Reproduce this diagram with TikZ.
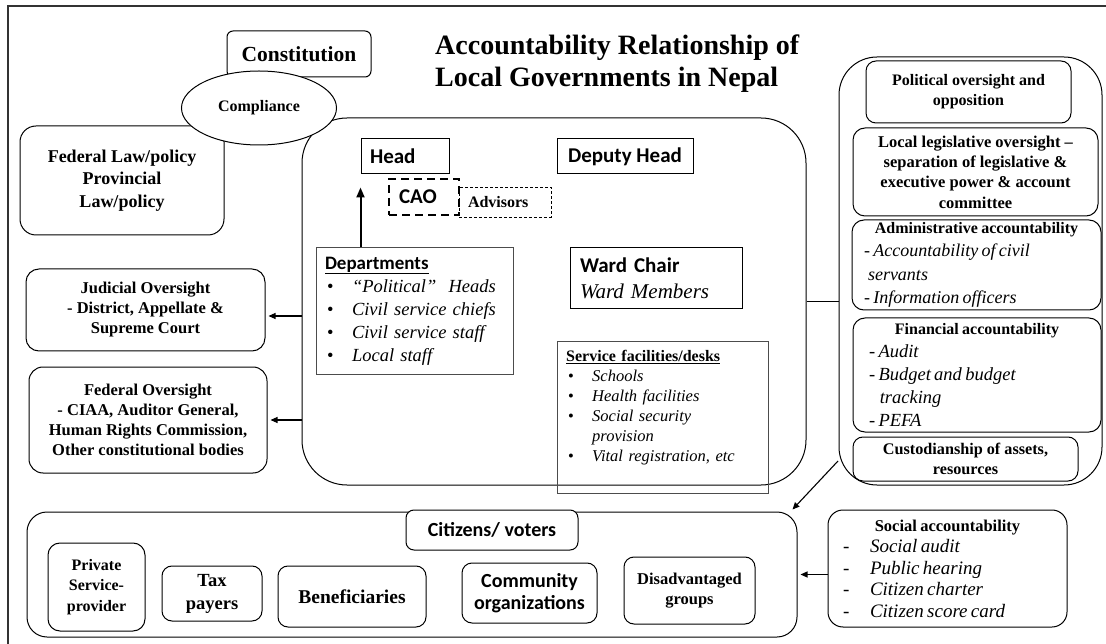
\documentclass[tikz,border=0pt]{standalone}
\usepackage{fontspec}
\setmainfont{Liberation Serif}
\newfontfamily\calfont{Carlito}
\usetikzlibrary{shapes.geometric,arrows.meta}
\newcommand\fsz[2]{\fontsize{#1}{#2}\selectfont}
\newcommand\bul[1]{\makebox[#1][l]{\hspace*{2pt}•}}
\begin{document}
\begin{tikzpicture}[x=1pt,y=-1pt]
\tikzset{
  bx/.style={draw, line width=1pt, inner sep=0pt},
  rb/.style={bx, rounded corners=#1},
  wh/.style 2 args={minimum width=#1pt, minimum height=#2pt},
  tip/.style={-{Triangle[length=7pt,width=6pt]}, line width=1.1pt},
  bigtip/.style={-{Triangle[length=10pt,width=8pt]}, line width=2pt},
}
\useasboundingbox (0,0) rectangle (1106,644);
\draw[line width=2pt, black!80] (8,6) rectangle (1114,652);

% title
\node[anchor=west, align=left, inner sep=0pt, font=\bfseries\fsz{28}{32}] (title) at (435,64)
  {Accountability Relationship of\\Local Governments in Nepal};

% left top
\node[rb=6pt, wh={144}{46}, font=\bfseries\fsz{21.5}{26}] (const) at (299,54) {Constitution};
\node[rb=16pt, wh={204}{109}, align=center, font=\bfseries\fsz{18}{22.5}] (fed) at (122,180.5)
  {Federal Law/policy\\Provincial\\Law/policy};

% main local government box
\node[rb=45pt, wh={504}{367}] (main) at (554,301.5) {};
\node[bx, ellipse, fill=white, wh={155}{74}, font=\bfseries\fsz{16}{19}] (compl) at (259,108) {Compliance};

\node[bx, wh={88}{35}, text width=70pt, inner xsep=9pt, align=left, font=\calfont\bfseries\fsz{21}{25}] (head) at (405,156.5) {Head};
\node[bx, wh={136}{35}, font=\calfont\bfseries\fsz{21}{25}] (dep) at (625,156.5) {Deputy Head};
\node[draw, line width=0.7pt, dash pattern=on 3pt off 2pt, inner sep=0pt, wh={92}{30}, text width=74pt, inner xsep=9pt, align=left, font=\bfseries\fsz{16}{19}] (adv) at (505,202) {Advisors};
\node[draw, line width=2.4pt, dash pattern=on 8pt off 5pt, inner sep=0pt, wh={70}{36}, text width=50pt, inner xsep=10pt, align=left, font=\calfont\bfseries\fsz{21}{25}] (cao) at (424,197) {CAO};

\node[bx, draw=black!70, wh={197}{126}, text width=179pt, inner xsep=9pt, align=left, font=\fsz{18.5}{23}] (dept) at (414.5,311)
  {{\calfont\bfseries\fsz{19}{23}\underline{Departments}}\\
   \bul{27pt}\textit{“Political”~ Heads}\\
   \bul{27pt}\textit{Civil service chiefs}\\
   \bul{27pt}\textit{Civil service staff}\\
   \bul{27pt}\textit{Local staff}};

\node[bx, wh={172}{61}, text width=152pt, inner xsep=10pt, align=left, font=\fsz{21}{26}] (ward) at (656,278.5)
  {{\calfont\bfseries Ward Chair}\\\textit{Ward Members}};

\node[bx, draw=black!70, wh={211}{151}] (serv) at (662.5,417.5) {};
\node[anchor=west, text width=195pt, align=left, inner sep=0pt, font=\fsz{16.5}{20}] (servtxt) at (566,408)
  {{\bfseries\fsz{16}{20}\underline{Service facilities/desks}}\\
   \bul{26pt}\textit{Schools}\\
   \bul{26pt}\textit{Health facilities}\\
   \bul{26pt}\textit{Social security}\\
   \hspace*{26pt}\textit{provision}\\
   \bul{26pt}\textit{Vital registration, etc}};

% left oversight
\node[rb=13pt, wh={239}{82}, align=center, font=\bfseries\fsz{16.5}{20}] (jud) at (145.5,310)
  {Judicial Oversight\\- District, Appellate \&\\Supreme Court};
\node[rb=14pt, wh={238}{106}, align=center, font=\bfseries\fsz{16.5}{20}] (fov) at (148,420)
  {Federal Oversight\\- CIAA, Auditor General,\\Human Rights Commission,\\Other constitutional bodies};

% right panel
\node[rb=38pt, wh={263}{428}] (rp) at (970.5,271) {};
\node[rb=10pt, wh={205}{62}, align=center, font=\bfseries\fsz{16}{20}] (pol) at (968.5,92)
  {Political oversight and\\opposition};
\node[rb=12pt, wh={245}{88}, align=center, font=\bfseries\fsz{16.5}{20.3}] (leg) at (975.5,172)
  {Local legislative oversight –\\separation of legislative \&\\executive power \& account\\committee};
\node[rb=12pt, wh={249}{90}, text width=225pt, inner xsep=12pt] (adm) at (976.5,265)
  {\setlength\parindent{0pt}{\centering\bfseries\fsz{16}{20}Administrative accountability\par}%
   \fsz{18}{23.5}\itshape - Accountability of civil\par
   \hspace*{4pt}servants\par
   - Information officers\par};
\node[rb=12pt, wh={248}{114}, text width=216pt, inner xsep=16pt] (fin) at (977,375)
  {\setlength\parindent{0pt}{\centering\bfseries\fsz{16}{20}Financial accountability\par}%
   \fsz{18.5}{23}\itshape - Audit\par
   - Budget and budget\par
   \hspace*{10.8pt}tracking\par
   - PEFA\par};
\node[rb=10pt, wh={225}{44}, align=center, font=\bfseries\fsz{16.2}{20}] (cust) at (965.5,459)
  {Custodianship of assets,\\resources};

% citizens
\node[rb=20pt, wh={770}{125}] (cit) at (412,574.5) {};
\node[rb=8pt, fill=white, wh={172}{40}, font=\calfont\bfseries\fsz{20}{24}] (vot) at (492,530) {Citizens/ voters};
\node[rb=12pt, wh={97}{88}, align=center, font=\bfseries\fsz{16}{20.5}] (priv) at (96.5,587) {Private\\Service-\\provider};
\node[rb=10pt, wh={100}{55}, align=center, font=\bfseries\fsz{18.5}{23}] (tax) at (212,593.5) {Tax\\payers};
\node[rb=10pt, wh={148}{61}, font=\bfseries\fsz{19.5}{23}] (ben) at (352,596.5) {Beneficiaries};
\node[rb=10pt, wh={135}{60}, align=center, font=\calfont\bfseries\fsz{20}{22.5}] (com) at (529.5,593) {Community\\organizations};
\node[rb=10pt, wh={131}{67}, align=center, font=\bfseries\fsz{16.5}{20.5}] (dis) at (689.5,590.5) {Disadvantaged\\groups};

\node[rb=15pt, wh={239}{117}, text width=209pt, inner xsep=15pt] (soc) at (947.5,568.5)
  {\setlength\parindent{0pt}{\centering\bfseries\fsz{16.5}{20}Social accountability\par}%
   \fsz{19}{21.5}\itshape
   \makebox[27pt][l]{\upshape -}Social audit\par
   \makebox[27pt][l]{\upshape -}Public hearing\par
   \makebox[27pt][l]{\upshape -}Citizen charter\par
   \makebox[27pt][l]{\upshape -}Citizen score card\par};

% connectors
\draw[bigtip] (dept.north -| head.west) -- ([yshift=-13pt]head.south west);
\coordinate (j1) at ([yshift=-6pt]jud.east);
\draw[tip] (j1 -| main.west) -- ([xshift=3pt]j1);
\draw[tip] (fov.east -| main.west) -- ([xshift=3pt]fov.east);
\draw[line width=1pt] (main.east) -- (main.east -| rp.west);
\coordinate (d1) at (838,461);
\draw[tip] (d1) -- ([shift={(-5pt,2pt)}]cit.north east);
\draw[tip] (cit.east -| soc.west) -- ([xshift=3pt]cit.east);
\end{tikzpicture}
\end{document}
